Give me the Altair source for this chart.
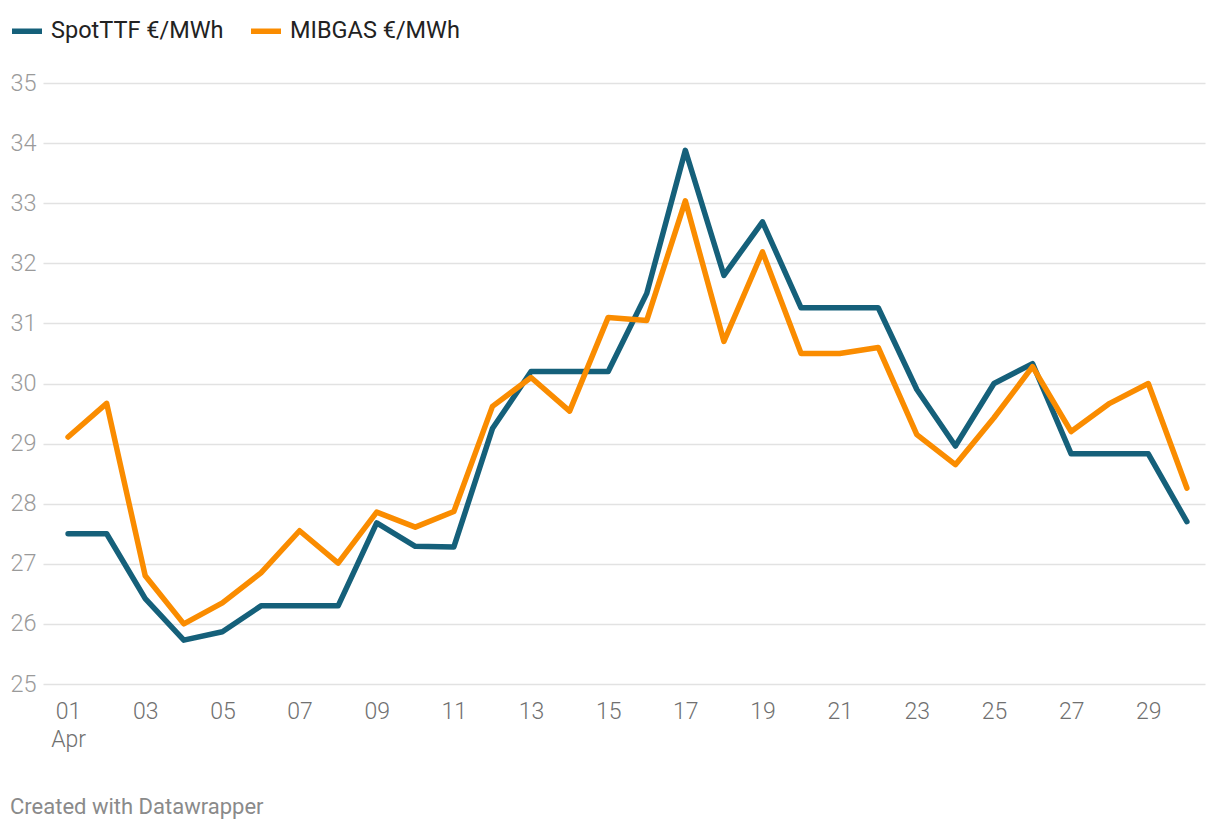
import altair as alt
import pandas as pd

days = list(range(1, 31))
spot_ttf = [27.5, 27.5, 26.42, 25.73, 25.87, 26.3, 26.3, 26.3, 27.68, 27.29,
            27.28, 29.25, 30.2, 30.2, 30.2, 31.5, 33.88, 31.8, 32.69, 31.26,
            31.26, 31.26, 29.9, 28.96, 30.0, 30.33, 28.83, 28.83, 28.83, 27.7]
mibgas = [29.11, 29.67, 26.8, 26.0, 26.35, 26.85, 27.55, 27.01, 27.86, 27.61,
          27.87, 29.62, 30.1, 29.54, 31.1, 31.05, 33.04, 30.7, 32.19, 30.5,
          30.5, 30.6, 29.15, 28.65, 29.43, 30.28, 29.2, 29.67, 30.0, 28.26]
series_names = ["SpotTTF €/MWh", "MIBGAS €/MWh"]
series_colors = ["#15607a", "#fa8c00"]
x_ticks = list(range(1, 30, 2))
y_ticks = list(range(25, 36))
footer = ["Created with Datawrapper"]

rows = []
for d, a, b in zip(days, spot_ttf, mibgas):
    rows.append({"day": d, "value": a, "series": series_names[0]})
    rows.append({"day": d, "value": b, "series": series_names[1]})
df = pd.DataFrame(rows)

W, H = 1162, 601
FONT = "Roboto"

lines = alt.Chart(df).mark_line(strokeWidth=5.5, strokeJoin="round", strokeCap="round", clip=False).encode(
    x=alt.X("day:Q", scale=alt.Scale(domain=[0.35, 30.47], nice=False, zero=False),
            axis=alt.Axis(values=x_ticks, grid=False, domain=False, ticks=False, tickSize=0,
                          labelPadding=16, labelFontSize=23, labelColor="#707070", labelFont=FONT,
                          labelFontWeight=300,
                          labelLineHeight=28, labelBaseline="top",
                          labelExpr="datum.value == 1 ? ['01', 'Apr'] : (datum.value < 10 ? '0' + datum.value : '' + datum.value)",
                          title=None)),
    y=alt.Y("value:Q", scale=alt.Scale(domain=[25, 35], nice=False, zero=False),
            axis=alt.Axis(values=y_ticks, grid=True, gridColor="#e2e2e2", gridWidth=1.5,
                          domain=False, ticks=False, tickSize=0, labelAlign="left",
                          labelPadding=33, labelFontSize=23.5, labelColor="#9a9a9a", labelFont=FONT,
                          labelFontWeight=300,
                          labelBaseline="middle", title=None)),
    color=alt.Color("series:N", scale=alt.Scale(domain=series_names, range=series_colors),
                    sort=series_names,
                    legend=alt.Legend(title=None, orient="none", direction="horizontal",
                                      legendX=-34, legendY=-70, symbolType="stroke",
                                      symbolStrokeWidth=5.5, symbolSize=900,
                                      labelFontSize=23.5, labelColor="#222", labelFont=FONT,
                                      labelLimit=500,
                                      labelOffset=6, columnPadding=16)),
)

foot = alt.Chart(pd.DataFrame({"t": footer})).mark_text(
    align="left", baseline="middle", fontSize=22, color="#8a8a8a", font=FONT
).encode(text="t:N", x=alt.value(-33), y=alt.value(H + 123))

chart = alt.layer(lines, foot).properties(
    width=W, height=H,
    background="white",
    padding={"left": 35, "top": 75, "right": 7, "bottom": 146},
    autosize=alt.AutoSizeParams(type="none"),
).configure_view(stroke=None)

chart.save("out.html", embed_options={"renderer": "svg", "actions": False})
